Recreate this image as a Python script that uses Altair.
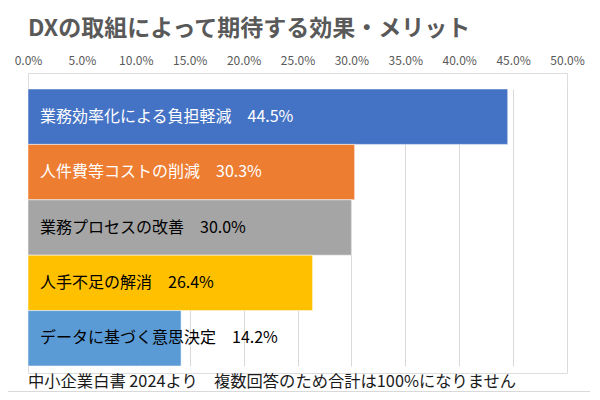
import altair as alt
import pandas as pd

categories = ["業務効率化による負担軽減", "人件費等コストの削減", "業務プロセスの改善", "人手不足の解消", "データに基づく意思決定"]
values = [0.445, 0.303, 0.300, 0.264, 0.142]
value_labels = ["44.5%", "30.3%", "30.0%", "26.4%", "14.2%"]
tick_values = [0, 0.05, 0.10, 0.15, 0.20, 0.25, 0.30, 0.35, 0.40, 0.45, 0.50]
title_text = "DXの取組によって期待する効果・メリット"
footnote = ["中小企業白書 2024より　複数回答のため合計は100%になりません"]

bar_colors = ["#4472C4", "#ED7D31", "#A5A5A5", "#FFC000", "#5B9BD5"]
text_colors = ["#FFFFFF", "#FFFFFF", "#000000", "#000000", "#000000"]

FONT = "Noto Sans CJK JP"
W, H = 539, 300

df = pd.DataFrame({
    "cat": categories,
    "val": values,
    "label": [c + "　" + v for c, v in zip(categories, value_labels)],
})

y_enc = alt.Y("cat:N", sort=categories, axis=None,
              scale=alt.Scale(range=[16, 293], paddingInner=0, paddingOuter=0))
x_scale = alt.Scale(domain=[0, 0.5], nice=False)

bars = alt.Chart(df).mark_bar(stroke="#FFFFFF", strokeOpacity=0.5, strokeWidth=1).encode(
    x=alt.X("val:Q", scale=x_scale,
            axis=alt.Axis(orient="top", values=tick_values, format=".1%", title=None,
                          domain=False, ticks=False, labelPadding=6, labelFontSize=12,
                          labelColor="#595959", labelFont=FONT, labelFlush=False,
                          labelOverlap=False,
                          grid=True, gridColor="#D9D9D9", gridWidth=1)),
    y=y_enc,
    color=alt.Color("cat:N", scale=alt.Scale(domain=categories, range=bar_colors), legend=None),
)

texts = alt.Chart(df).mark_text(align="left", baseline="middle", dx=12, fontSize=16, font=FONT).encode(
    x=alt.datum(0, scale=x_scale),
    y=y_enc,
    text="label:N",
    color=alt.Color("cat:N", scale=alt.Scale(domain=categories, range=text_colors), legend=None),
)

note = alt.Chart(pd.DataFrame({"t": footnote})).mark_text(
    align="left", baseline="middle", fontSize=16.3, font=FONT, color="#1A1A1A"
).encode(
    x=alt.value(0),
    y=alt.value(H + 9),
    text="t:N",
)

border = alt.Chart(pd.DataFrame({"t": footnote})).mark_rule(color="#D9D9D9", strokeWidth=1).encode(
    x=alt.value(-28), x2=alt.value(562), y=alt.value(H + 18.5),
)

chart = alt.layer(bars, texts, note, border).resolve_scale(color="independent").properties(
    width=W, height=H,
    title=alt.TitleParams(title_text, anchor="start", fontSize=23, fontWeight="bold",
                          color="#595959", font=FONT, offset=13, frame="group"),
    autosize=alt.AutoSizeParams(type="none"),
    padding={"left": 20, "top": 65, "right": 25, "bottom": 19},
).configure_view(stroke=None).configure(background="#FFFFFF")

chart.save("out.html", embed_options={"renderer": "svg", "actions": False})
